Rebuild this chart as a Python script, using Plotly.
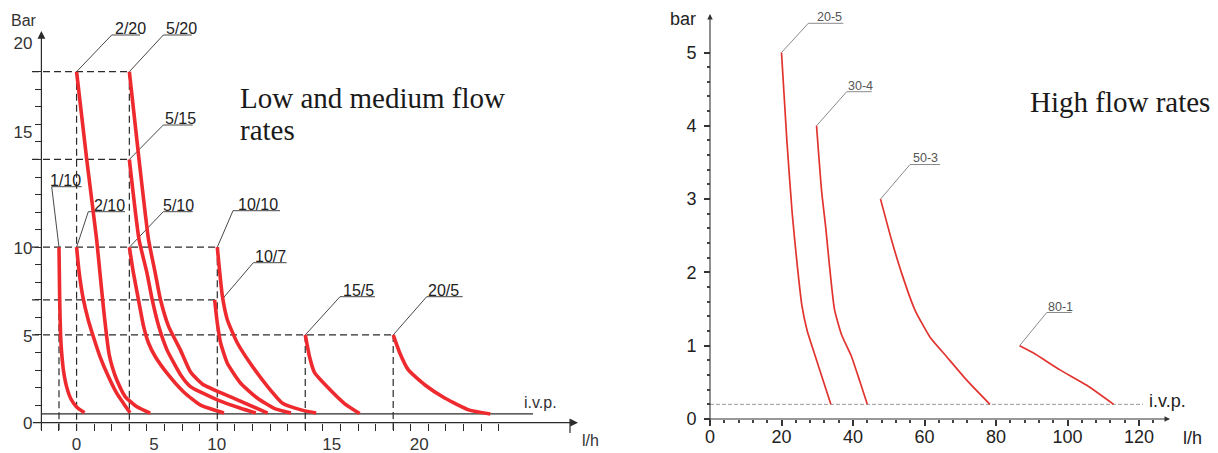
import plotly.graph_objects as go

# page body has an 8px default margin, so the figure is 8px smaller and every
# reference pixel position is shifted by that offset
OFF = 8
FIG_W, FIG_H = 1218 - OFF, 453 - OFF

# ---------------- LEFT PANEL DATA: low and medium flow rates (l/h vs bar) ----------------
low_names = ["1/10", "2/10", "2/20", "5/10", "5/15", "5/20", "10/10", "10/7", "15/5", "20/5"]

flow_1_10 = [1.0, 1.04, 1.09, 1.15, 1.25, 1.42, 1.68, 2.0, 2.45]
bar_1_10 = [10.0, 7.0, 5.0, 4.0, 3.0, 2.1, 1.35, 0.9, 0.57]

flow_2_10 = [2.0, 2.15, 2.38, 2.66, 2.95, 3.33, 3.81, 4.28, 4.66, 5.04]
bar_2_10 = [10.0, 8.53, 7.05, 5.87, 4.91, 3.77, 2.63, 1.68, 1.11, 0.57]

flow_2_20 = [2.0, 2.57, 3.14, 3.33, 3.52, 3.71, 3.85, 4.05, 4.3, 4.76, 5.43, 6.19]
bar_2_20 = [20.0, 15.05, 10.44, 8.53, 6.62, 4.91, 3.9, 3.1, 2.4, 1.49, 0.91, 0.55]

flow_5_10 = [5.0, 5.23, 5.52, 5.81, 6.09, 6.47, 7.14, 8.09, 9.05, 10.38]
bar_5_10 = [10.0, 8.54, 7.0, 5.49, 4.54, 3.77, 2.82, 1.75, 1.0, 0.55]

flow_5_15 = [5.0, 5.55, 6.0, 6.29, 6.67, 7.14, 7.9, 8.47, 10.0, 11.33, 12.19]
bar_5_15 = [15.0, 10.44, 8.54, 7.05, 5.49, 4.15, 2.75, 2.06, 1.3, 0.82, 0.55]

flow_5_20 = [5.0, 5.55, 6.09, 6.47, 6.76, 7.23, 7.9, 8.47, 9.14, 10.95, 12.86]
bar_5_20 = [20.0, 15.0, 10.44, 8.54, 7.05, 5.49, 4.15, 2.9, 2.21, 1.39, 0.55]

flow_10_10 = [10.0, 10.29, 10.57, 11.14, 12.0, 12.86, 13.71, 14.76, 15.62]
bar_10_10 = [10.0, 7.2, 5.87, 4.54, 3.2, 2.06, 1.11, 0.73, 0.55]

flow_10_7 = [9.85, 10.0, 10.19, 10.57, 11.33, 12.29, 13.23, 14.19]
bar_10_7 = [7.0, 5.68, 4.54, 3.39, 2.25, 1.39, 0.82, 0.55]

flow_15_5 = [15.0, 15.24, 15.52, 16.29, 17.23, 18.09]
bar_15_5 = [5.0, 3.77, 2.87, 2.0, 1.09, 0.52]

flow_20_5 = [20.0, 20.38, 20.86, 21.81, 22.95, 24.29, 25.52]
bar_20_5 = [5.0, 3.96, 3.01, 2.15, 1.39, 0.73, 0.5]

low_flows = [flow_1_10, flow_2_10, flow_2_20, flow_5_10, flow_5_15, flow_5_20,
             flow_10_10, flow_10_7, flow_15_5, flow_20_5]
low_bars = [bar_1_10, bar_2_10, bar_2_20, bar_5_10, bar_5_15, bar_5_20,
            bar_10_10, bar_10_7, bar_15_5, bar_20_5]

low_ivp_bar = 0.5
low_x_ticktext = ["0", "5", "10", "15", "20"]
low_x_tickpos = [2.0, 6.4, 9.97, 16.5, 21.48]      # where the drawing prints its labels
low_y_ticktext = ["0", "5", "10", "15", "20"]
low_y_tickpos = [0.0, 4.95, 9.97, 16.58, 21.62]
low_x_minor = list(range(0, 27))
low_y_minor = list(range(0, 21))

guide_h_bar = [20, 15, 10, 7, 5]
guide_h_flow_end = [5, 5, 10, 10, 20]
guide_v_flow = [1, 2, 5, 10, 15, 20]
guide_v_bar_top = [10, 20, 20, 10, 5, 5]

# ---------------- RIGHT PANEL DATA: high flow rates ----------------
high_names = ["20-5", "30-4", "50-3", "80-1"]

flow_20_5h = [20.0, 21.5, 23.0, 24.4, 25.7, 27.2, 29.5, 31.8, 33.8]
bar_20_5h = [5.0, 3.8, 2.8, 2.1, 1.55, 1.2, 0.85, 0.5, 0.2]

flow_30_4 = [29.8, 31.2, 32.4, 33.4, 34.8, 36.8, 39.6, 42.0, 44.0]
bar_30_4 = [4.0, 3.12, 2.6, 2.1, 1.5, 1.15, 0.85, 0.5, 0.2]

flow_50_3 = [47.7, 50.8, 53.6, 57.3, 61.5, 66.2, 71.8, 78.3]
bar_50_3 = [3.0, 2.44, 1.99, 1.49, 1.12, 0.85, 0.53, 0.2]

flow_80_1 = [86.6, 90.5, 97.9, 105.4, 112.9]
bar_80_1 = [1.0, 0.9, 0.67, 0.46, 0.2]

high_flows = [flow_20_5h, flow_30_4, flow_50_3, flow_80_1]
high_bars = [bar_20_5h, bar_30_4, bar_50_3, bar_80_1]

high_ivp_bar = 0.2
high_x_ticks = [0, 20, 40, 60, 80, 100, 120]
high_y_ticks = [0, 1, 2, 3, 4, 5]
high_x_minor = list(range(0, 125, 4))
high_y_minor = [round(i * 0.2, 1) for i in range(0, 26)]

# ---------------- geometry / style ----------------
X0L, SXL, Y0L, SYL = 41.4, 17.59, 422.7, 17.55     # px of value 0, px per unit (left)
X0R, SXR, Y0R, SYR = 710.0, 3.575, 419.0, 73.3      # (right)


def lx(px):
    return (px - X0L) / SXL


def ly(py):
    return (Y0L - py) / SYL


def rx(px):
    return (px - X0R) / SXR


def ry(py):
    return (Y0R - py) / SYR


def pxp(px):
    return (px - OFF) / FIG_W


def pyp(py):
    return 1 - (py - OFF) / FIG_H


SANS = "Arial, Liberation Sans, sans-serif"
SERIF = "Times New Roman, Liberation Serif, serif"
RED_L = "#ee2a2e"
RED_R = "#e2342f"
INK = "#2b2b2b"

# label layout (px): text centre x, underline y, underline x1, x2, target dx
low_label_layout = {
    "1/10": (65, 186.7, 51.7, 81.7, 0),
    "2/10": (110, 211.7, 88.3, 125, 0),
    "2/20": (130, 35, 111.7, 140, 0),
    "5/10": (178, 211.7, 163.3, 192.7, 0),
    "5/15": (180, 125, 163.3, 192.7, 0),
    "5/20": (181.5, 35, 163.3, 191.7, 0),
    "10/10": (258, 210.7, 233, 280, 0),
    "10/7": (270, 262.7, 253.3, 286.7, 7),
    "15/5": (358, 296.7, 340, 375, 0),
    "20/5": (443, 296.7, 426.7, 462.7, 0),
}
high_label_layout = {
    "20-5": (829, 23.3, 808.3, 843.3),
    "30-4": (860.5, 91.7, 846.7, 871.7),
    "50-3": (925, 164.5, 910, 940),
    "80-1": (1060, 312.5, 1046.7, 1071.7),
}

fig = go.Figure()
annotations = []

# ---- left: dashed guides ----
gx, gy = [], []
for b, fe in zip(guide_h_bar, guide_h_flow_end):
    gx += [lx(32), fe, None]
    gy += [b, b, None]
for f, bt in zip(guide_v_flow, guide_v_bar_top):
    gx += [f, f, None]
    gy += [bt, ly(431), None]
fig.add_trace(go.Scatter(x=gx, y=gy, mode="lines", xaxis="x", yaxis="y",
                         line=dict(color=INK, width=1.2, dash="7px,4px"), hoverinfo="skip"))

# ---- left: i.v.p. line ----
fig.add_trace(go.Scatter(x=[0, lx(533)], y=[low_ivp_bar, low_ivp_bar], mode="lines",
                         xaxis="x", yaxis="y", line=dict(color=INK, width=1.2), hoverinfo="skip"))

# ---- left: leaders ----
lx_, ly_ = [], []
for name, f, b in zip(low_names, low_flows, low_bars):
    tcx, uly, ux1, ux2, tdx = low_label_layout[name]
    lx_ += [f[0] + tdx / SXL, lx(ux1), lx(ux2), None]
    ly_ += [b[0], ly(uly), ly(uly), None]
    annotations.append(dict(x=pxp(tcx), y=pyp(uly + 3), xref="paper", yref="paper",
                            text=name, showarrow=False, xanchor="center", yanchor="bottom",
                            borderpad=0, font=dict(family=SANS, size=16, color="#222")))
fig.add_trace(go.Scatter(x=lx_, y=ly_, mode="lines", xaxis="x", yaxis="y",
                         line=dict(color="#333", width=0.9), hoverinfo="skip"))

# ---- left: curves ----
for f, b in zip(low_flows, low_bars):
    fig.add_trace(go.Scatter(x=f, y=b, mode="lines", xaxis="x", yaxis="y",
                             line=dict(color=RED_L, width=3.6, shape="spline", smoothing=0.5),
                             hoverinfo="skip"))

# ---- right: i.v.p. ----
fig.add_trace(go.Scatter(x=[0, rx(1143)], y=[high_ivp_bar, high_ivp_bar], mode="lines",
                         xaxis="x2", yaxis="y2",
                         line=dict(color="#9a9a9a", width=1, dash="4px,2px"), hoverinfo="skip"))

# ---- right: leaders ----
hx, hy = [], []
for name, f, b in zip(high_names, high_flows, high_bars):
    tcx, uly, ux1, ux2 = high_label_layout[name]
    hx += [f[0], rx(ux1), rx(ux2), None]
    hy += [b[0], ry(uly), ry(uly), None]
    annotations.append(dict(x=pxp(tcx), y=pyp(uly + 2), xref="paper", yref="paper",
                            text=name, showarrow=False, xanchor="center", yanchor="bottom",
                            borderpad=0, font=dict(family=SANS, size=12.5, color="#555")))
fig.add_trace(go.Scatter(x=hx, y=hy, mode="lines", xaxis="x2", yaxis="y2",
                         line=dict(color="#8a8a8a", width=1), hoverinfo="skip"))

# ---- right: curves ----
for f, b in zip(high_flows, high_bars):
    fig.add_trace(go.Scatter(x=f, y=b, mode="lines", xaxis="x2", yaxis="y2",
                             line=dict(color=RED_R, width=1.7, shape="spline", smoothing=0.5),
                             hoverinfo="skip"))


# ---- axis lines with arrows ----
def arrow(x, y, ax, ay, xr, yr, size=1.3, width=1.2, color=INK):
    return dict(x=x, y=y, ax=ax, ay=ay, xref=xr, yref=yr, axref=xr, ayref=yr, text="",
                showarrow=True, arrowhead=2, arrowsize=size, arrowwidth=width,
                arrowcolor=color, standoff=0, startstandoff=0)


annotations += [
    arrow(0, ly(31), 0, ly(431.5), "x", "y"),
    arrow(lx(578), 0, lx(31.4), 0, "x", "y"),
    arrow(0, ry(14), 0, ry(423), "x2", "y2", size=1.0, width=1.1, color="#333"),
    arrow(rx(1170), 0, rx(706), 0, "x2", "y2", size=1.0, width=1.1, color="#333"),
]


def text(px, py, s, family, size, color, xanchor="center"):
    return dict(x=pxp(px), y=pyp(py), xref="paper", yref="paper", text=s, showarrow=False,
                xanchor=xanchor, yanchor="middle", font=dict(family=family, size=size, color=color))


annotations += [
    text(23.5, 20, "Bar", SANS, 16, "#333"),
    text(590, 440, "l/h", SANS, 16, "#333"),
    text(540, 402, "i.v.p.", SANS, 16, "#333"),
    text(238, 97.5, "Low and medium flow", SERIF, 29, "#1a1a1a", "left"),
    text(238, 130, "rates", SERIF, 29, "#1a1a1a", "left"),
    text(1028, 102, "High flow rates", SERIF, 29, "#1a1a1a", "left"),
    text(683, 19, "bar", SANS, 18, "#222"),
    text(1167, 401, "i.v.p.", SANS, 18, "#222"),
    text(1192, 438, "l/h", SANS, 18, "#222"),
]

# left x-axis end bar
shapes = [dict(type="line", xref="x", yref="y", x0=lx(570), x1=lx(570), y0=ly(419), y1=ly(433),
               line=dict(color=INK, width=1.2))]

common = dict(showline=False, showgrid=False, zeroline=False, fixedrange=True)

fig.update_layout(
    width=FIG_W, height=FIG_H, autosize=False, showlegend=False,
    margin=dict(l=0, r=0, t=0, b=0, pad=0),
    paper_bgcolor="white", plot_bgcolor="white",
    annotations=annotations, shapes=shapes,
    xaxis=dict(domain=[pxp(10), pxp(604)], range=[lx(10), lx(604)], anchor="free",
               position=pyp(Y0L), tickmode="array", tickvals=low_x_tickpos,
               ticktext=low_x_ticktext, ticks="", ticklabelstandoff=9,
               tickfont=dict(family=SANS, size=17, color="#333"),
               minor=dict(tickmode="array", tickvals=low_x_minor, ticks="outside",
                          ticklen=7, tickwidth=1.1, tickcolor=INK, showgrid=False),
               **common),
    yaxis=dict(domain=[pyp(452), pyp(10)], range=[ly(452), ly(10)], anchor="free",
               position=pxp(X0L), tickmode="array", tickvals=low_y_tickpos,
               ticktext=low_y_ticktext, ticks="", ticklabelstandoff=9,
               tickfont=dict(family=SANS, size=17, color="#333"),
               minor=dict(tickmode="array", tickvals=low_y_minor, ticks="outside",
                          ticklen=6, tickwidth=1.1, tickcolor=INK, showgrid=False),
               **common),
    xaxis2=dict(domain=[pxp(636), pxp(1217)], range=[rx(636), rx(1217)], anchor="free",
                position=pyp(Y0R), tickmode="array", tickvals=high_x_ticks,
                ticks="outside", ticklen=6, tickwidth=2, tickcolor="#333", ticklabelstandoff=-5,
                tickfont=dict(family=SANS, size=18, color="#222"),
                minor=dict(tickmode="array", tickvals=high_x_minor, ticks="outside",
                           ticklen=3, tickwidth=1.5, tickcolor="#444", showgrid=False),
                **common),
    yaxis2=dict(domain=[pyp(452), pyp(10)], range=[ry(452), ry(10)], anchor="free",
                position=pxp(X0R), tickmode="array", tickvals=high_y_ticks,
                ticks="outside", ticklen=6, tickwidth=2, tickcolor="#333", ticklabelstandoff=4,
                tickfont=dict(family=SANS, size=18, color="#222"),
                minor=dict(tickmode="array", tickvals=high_y_minor, ticks="outside",
                           ticklen=3, tickwidth=1.5, tickcolor="#444", showgrid=False),
                **common),
)

fig.write_html("out.html")
